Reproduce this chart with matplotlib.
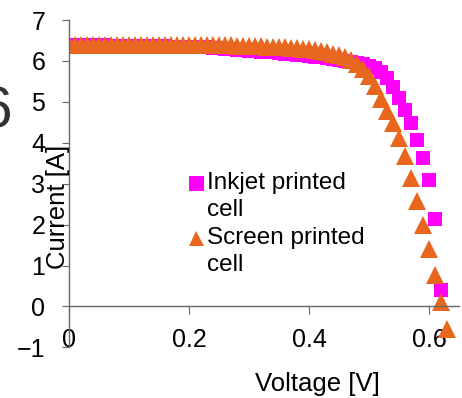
import numpy as np
import matplotlib.pyplot as plt
from matplotlib.lines import Line2D

plt.rcParams['font.family'] = ['Liberation Sans', 'DejaVu Sans']

voltage = [0.00, 0.01, 0.02, 0.03, 0.04, 0.05, 0.06, 0.07, 0.08, 0.09,
           0.10, 0.11, 0.12, 0.13, 0.14, 0.15, 0.16, 0.17, 0.18, 0.19,
           0.20, 0.21, 0.22, 0.23, 0.24, 0.25, 0.26, 0.27, 0.28, 0.29,
           0.30, 0.31, 0.32, 0.33, 0.34, 0.35, 0.36, 0.37, 0.38, 0.39,
           0.40, 0.41, 0.42, 0.43, 0.44, 0.45, 0.46, 0.47, 0.48, 0.49,
           0.50, 0.51, 0.52, 0.53, 0.54, 0.55, 0.56, 0.57, 0.58, 0.59,
           0.60, 0.61, 0.62, 0.63]

inkjet = [6.38, 6.38, 6.38, 6.38, 6.38, 6.38, 6.38, 6.37, 6.37, 6.37,
          6.37, 6.37, 6.37, 6.36, 6.36, 6.36, 6.36, 6.35, 6.35, 6.35,
          6.35, 6.34, 6.34, 6.33, 6.32, 6.31, 6.30, 6.28, 6.27, 6.26,
          6.25, 6.24, 6.23, 6.22, 6.21, 6.19, 6.18, 6.17, 6.15, 6.14,
          6.12, 6.10, 6.09, 6.07, 6.05, 6.03, 6.00, 5.98, 5.96, 5.93,
          5.88, 5.82, 5.73, 5.58, 5.37, 5.10, 4.81, 4.49, 4.08, 3.64,
          3.10, 2.14, 0.41]

screen = [6.40, 6.40, 6.40, 6.40, 6.40, 6.40, 6.40, 6.40, 6.40, 6.40,
          6.40, 6.40, 6.40, 6.39, 6.39, 6.39, 6.39, 6.39, 6.39, 6.39,
          6.39, 6.39, 6.39, 6.38, 6.38, 6.38, 6.38, 6.38, 6.37, 6.37,
          6.37, 6.36, 6.36, 6.35, 6.35, 6.34, 6.33, 6.32, 6.31, 6.30,
          6.28, 6.26, 6.24, 6.21, 6.18, 6.14, 6.09, 6.02, 5.93, 5.80,
          5.62, 5.38, 5.08, 4.78, 4.48, 4.12, 3.68, 3.15, 2.58, 2.00,
          1.40, 0.78, 0.12, -0.55]

legend_lines = [['Inkjet printed', 'cell'], ['Screen printed', 'cell']]
pink = '#FF00FF'
orange = '#E9661F'

W, H = 462, 398
fig = plt.figure(figsize=(W / 100, H / 100), dpi=100)
ax = fig.add_axes([69 / W, (H - 347.4) / H, 390 / W, 327.4 / H])

ax.plot(voltage[:len(inkjet)], inkjet, 's', color=pink, ms=9.4, mew=0)
ax.plot(voltage, screen, '^', color=orange, ms=13, mew=0)

ax.set_xlim(0, 0.65)
ax.set_ylim(-1, 7)
ax.set_xticks([0, 0.2, 0.4, 0.6])
ax.set_xticklabels(['0', '0.2', '0.4', '0.6'])
ax.set_yticks(range(-1, 8))

axis_col = '#666666'
ax.spines['top'].set_visible(False)
ax.spines['right'].set_visible(False)
ax.spines['bottom'].set_position(('data', 0))
for s in ('left', 'bottom'):
    ax.spines[s].set_color(axis_col)
    ax.spines[s].set_linewidth(1)
ax.tick_params(axis='x', direction='out', length=6, color=axis_col,
               labelsize=18, pad=9.5)
ax.tick_params(axis='y', direction='out', length=5, color=axis_col,
               labelsize=18, pad=12)

fig.text(317 / W, 1 - 384 / H, 'Voltage [V]', fontsize=18.5,
         ha='center', va='center')
fig.text(58 / W, 1 - 207 / H, 'Current [A]', fontsize=18.5, rotation=90,
         ha='center', va='center')
fig.text(13 / W, 1 - 127 / H, '6', fontsize=42, color='#333333',
         ha='right', va='baseline')

# legend, marker next to the first line of each two-line label
for (line1, line2), y0, mk, col in zip(legend_lines, [183, 238], ['s', '^'],
                                       [pink, orange]):
    fig.add_artist(Line2D([196 / W], [1 - y0 / H], marker=mk, color=col,
                          ms=10.8, mew=0, linestyle='none'))
    fig.text(207 / W, 1 - y0 / H, line1, fontsize=17.5, ha='left', va='center')
    fig.text(207 / W, 1 - (y0 + 27) / H, line2, fontsize=17.5, ha='left',
             va='center')

fig.savefig('out.png', dpi=100)
